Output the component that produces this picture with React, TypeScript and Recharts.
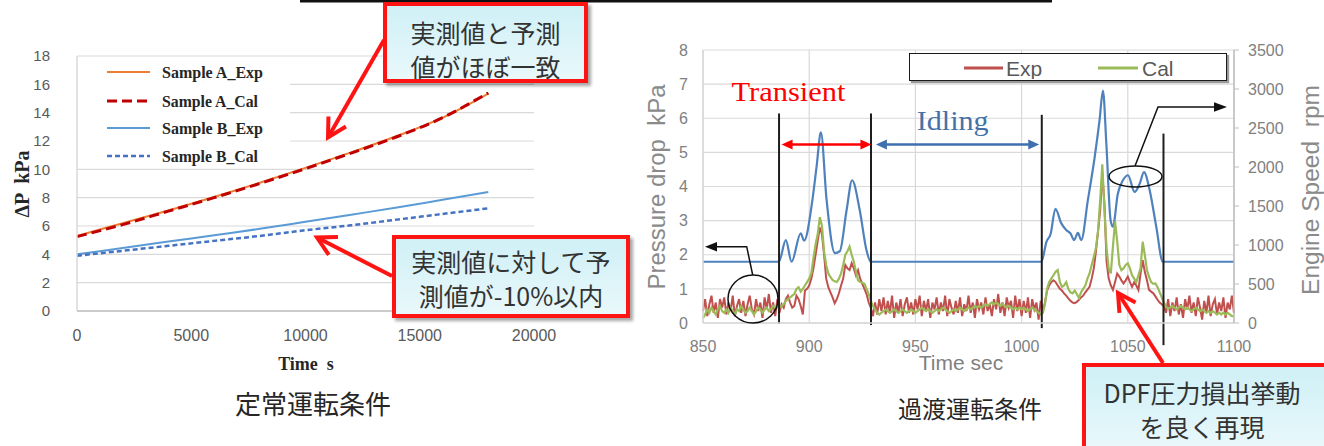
import React from 'react';
import { LineChart, Line, XAxis, YAxis, CartesianGrid, ReferenceLine, Legend } from 'recharts';

// ---------- Steady-state chart (left) ----------
const steadyTime = [0, 2000, 4000, 6000, 8000, 10000, 12000, 14000, 16000, 18000];
const sampleAExp = [5.3, 6.2, 7.1, 8.05, 9.05, 10.1, 11.2, 12.35, 13.65, 15.35];
const sampleACal = [5.25, 6.1, 7.05, 8.0, 9.0, 10.05, 11.15, 12.3, 13.65, 15.4];
const sampleBExp = [4.0, 4.45, 4.9, 5.35, 5.8, 6.3, 6.8, 7.3, 7.85, 8.4];
const sampleBCal = [3.9, 4.25, 4.6, 4.95, 5.3, 5.7, 6.05, 6.45, 6.85, 7.25];
const steadyNames = ['Sample A_Exp', 'Sample A_Cal', 'Sample B_Exp', 'Sample B_Cal'];
const steadyXTicks = [0, 5000, 10000, 15000, 20000];
const steadyYTicks = [0, 2, 4, 6, 8, 10, 12, 14, 16, 18];

// ---------- Transient chart (right) ----------
const transientStart = 850; // first sample time, 1 s step
const expKpa = [
  0.35, 0.7, 0.2, 0.55, 0.8, 0.3, 0.6, 0.15, 0.7, 0.45,
  0.75, 0.25, 0.6, 0.35, 0.8, 0.2, 0.5, 0.7, 0.3, 0.65,
  0.2, 0.55, 0.8, 0.4, 0.25, 0.7, 0.35, 0.6, 0.15, 0.75,
  0.4, 0.85, 0.3, 0.6, 0.2, 0.7, 0.3, 0.55, 0.45, 0.7,
  0.8, 0.6, 0.45, 0.5, 0.8, 0.7, 0.5, 0.25, 0.95, 1.0,
  1.1, 1.3, 1.6, 2.0, 2.4, 2.8, 2.6, 2.0, 1.3, 1.05,
  0.9, 0.75, 0.58, 0.7, 0.87, 1.1, 1.3, 1.7, 1.6, 1.55,
  1.75, 1.6, 1.4, 1.55, 1.3, 1.15, 1.0, 0.85, 0.6, 0.45,
  0.2, 0.6, 0.25, 0.7, 0.35, 0.75, 0.25, 0.65, 0.3, 0.8,
  0.15, 0.6, 0.3, 0.7, 0.2, 0.55, 0.75, 0.3, 0.6, 0.25,
  0.7, 0.4, 0.8, 0.2, 0.65, 0.35, 0.7, 0.15, 0.6, 0.4,
  0.75, 0.25, 0.6, 0.35, 0.8, 0.2, 0.7, 0.45, 0.25, 0.65,
  0.3, 0.75, 0.2, 0.55, 0.35, 0.8, 0.3, 0.6, 0.15, 0.7,
  0.4, 0.6, 0.25, 0.75, 0.35, 0.55, 0.2, 0.7, 0.4, 0.85,
  0.3, 0.6, 0.2, 0.75, 0.45, 0.65, 0.15, 0.8, 0.35, 0.7,
  0.2, 0.65, 0.3, 0.75, 0.15, 0.7, 0.4, 0.6, 0.1, 0.65,
  0.35, 0.6, 0.95, 1.1, 1.2, 1.25, 1.2, 1.1, 1.0, 0.95,
  0.87, 0.8, 0.72, 0.65, 0.6, 0.58, 0.62, 0.68, 0.75, 0.8,
  0.9, 0.98, 1.06, 1.3, 1.6, 2.1, 2.7, 3.3, 4.4, 3.5,
  1.8, 1.3, 1.1, 0.97, 1.2, 1.45, 1.36, 1.25, 1.16, 1.25,
  1.36, 1.2, 1.06, 1.2, 1.1, 0.97, 1.45, 1.84, 1.5, 1.26,
  0.97, 0.92, 0.87, 0.78, 0.68, 0.6, 0.55, 0.48, 0.3, 0.7,
  0.2, 0.6, 0.35, 0.75, 0.25, 0.55, 0.15, 0.7, 0.4, 0.8,
  0.3, 0.6, 0.2, 0.75, 0.45, 0.1, 0.65, 0.3, 0.8, 0.2,
  0.55, 0.7, 0.25, 0.6, 0.35, 0.75, 0.15, 0.6, 0.4, 0.8,
  0.3,
];
const calKpa = [
  0.15, 0.25, 0.4, 0.3, 0.45, 0.35, 0.25, 0.4, 0.5, 0.35,
  0.3, 0.4, 0.3, 0.45, 0.35, 0.25, 0.4, 0.35, 0.5, 0.4,
  0.3, 0.35, 0.45, 0.35, 0.25, 0.35, 0.45, 0.4, 0.3, 0.4,
  0.45, 0.35, 0.4, 0.5, 0.45, 0.5, 0.45, 0.5, 0.55, 0.65,
  0.7, 0.75, 0.8, 0.85, 1.0, 1.05, 0.92, 1.0, 1.1, 1.2,
  1.3, 1.45, 1.9, 2.3, 2.6, 3.1, 2.85, 2.1, 1.7, 1.45,
  1.35, 1.26, 1.22, 1.2, 1.3, 1.45, 1.7, 2.0, 2.1, 2.24,
  2.0, 1.8, 1.5, 1.25, 1.2, 1.18, 1.15, 1.0, 0.85, 0.65,
  0.5, 0.4, 0.3, 0.25, 0.3, 0.35, 0.4, 0.35, 0.3, 0.35,
  0.4, 0.35, 0.3, 0.35, 0.4, 0.35, 0.3, 0.35, 0.4, 0.35,
  0.3, 0.35, 0.4, 0.45, 0.4, 0.35, 0.4, 0.35, 0.3, 0.35,
  0.4, 0.35, 0.4, 0.45, 0.4, 0.35, 0.3, 0.35, 0.4, 0.35,
  0.4, 0.45, 0.4, 0.35, 0.4, 0.45, 0.4, 0.45, 0.5, 0.45,
  0.5, 0.45, 0.5, 0.55, 0.5, 0.55, 0.6, 0.55, 0.6, 0.55,
  0.5, 0.55, 0.5, 0.45, 0.5, 0.45, 0.4, 0.45, 0.4, 0.45,
  0.4, 0.45, 0.4, 0.35, 0.4, 0.45, 0.4, 0.35, 0.3, 0.25,
  0.3, 0.55, 1.0, 1.2, 1.3, 1.4, 1.5, 1.55, 1.2, 1.06,
  1.1, 1.2, 1.0, 0.9, 0.87, 0.95, 0.85, 0.73, 0.9, 1.0,
  1.1, 1.3, 1.45, 1.7, 1.94, 2.2, 2.7, 3.6, 4.65, 3.3,
  2.2, 1.6, 1.45, 2.24, 2.97, 2.4, 1.7, 1.55, 1.6, 1.7,
  1.75, 1.6, 1.4, 1.3, 1.2, 1.4, 1.6, 2.38, 2.0, 1.55,
  1.35, 1.2, 1.15, 1.16, 1.05, 0.9, 0.75, 0.6, 0.48, 0.42,
  0.45, 0.5, 0.45, 0.4, 0.45, 0.5, 0.45, 0.4, 0.45, 0.4,
  0.35, 0.4, 0.45, 0.4, 0.35, 0.4, 0.35, 0.3, 0.35, 0.3,
  0.35, 0.3, 0.25, 0.3, 0.25, 0.3, 0.25, 0.3, 0.25, 0.2,
  0.2,
];
const speedTime = [
  850, 885.7, 889, 891.7, 896, 897.6, 901.5, 903.5, 905.5, 908.2, 912.1, 914.4, 917.6, 920.2, 923.8, 927, 929,
  1009.3, 1011.7, 1013.7, 1015.9, 1018.7, 1021.1, 1023.1, 1024.7, 1026.5, 1028.1, 1031.2, 1034.4, 1036.7,
  1038.3, 1039.9, 1041.9, 1043, 1045.3, 1047.7, 1050.1, 1053.2, 1055.6, 1057.6, 1060.3, 1063.4, 1066.5, 1100,
];
const speedRpm = [
  785, 785, 1063, 785, 1150, 1055, 1575, 2010, 2445, 1575, 897, 920, 1445, 1830, 1445, 930, 785,
  785, 1040, 1145, 1465, 1277, 1190, 1145, 1063, 1155, 1063, 1575, 2125, 2600,
  2980, 2297, 1317, 1234, 1658, 1829, 1894, 1680, 1785, 1934, 1702, 1234, 785, 785,
];
const transientXTicks = [850, 900, 950, 1000, 1050, 1100];
const pressureTicks = [0, 1, 2, 3, 4, 5, 6, 7, 8];
const rpmTicks = [0, 500, 1000, 1500, 2000, 2500, 3000, 3500];
// phase boundaries: time, bottom kPa, top kPa
const phaseTimes = [885.8, 929.1, 1009.5, 1066.8];
const phaseBottoms = [-0.02, -0.06, -0.15, -0.65];
const phaseTops = [6.14, 6.14, 6.1, 5.55];
const transientSpan = [887, 929.3];
const idlingSpan = [931.4, 1008.3];
const spanLevel = 5.23;

const steadyData = steadyTime.map((t, i) => ({
  time: t,
  aExp: sampleAExp[i],
  aCal: sampleACal[i],
  bExp: sampleBExp[i],
  bCal: sampleBCal[i],
}));
const transientData = expKpa.map((v, i) => ({ t: transientStart + i, exp: v, cal: calKpa[i] }));
const speedData = speedTime.map((t, i) => ({ t, rpm: speedRpm[i] }));

const SANS = '"Liberation Sans", Arial, sans-serif';
const SERIF = '"Liberation Serif", "Times New Roman", serif';
const CJK = '"Noto Sans CJK JP", sans-serif';

const steadyStyles = [
  { key: 'aExp', color: '#ED7D31', width: 2, dash: undefined, textLen: 101 },
  { key: 'aCal', color: '#C00000', width: 3, dash: '10 5', textLen: 96 },
  { key: 'bExp', color: '#5B9BD5', width: 2, dash: undefined, textLen: 101 },
  { key: 'bCal', color: '#4472C4', width: 2.5, dash: '5 3', textLen: 96 },
];

const SteadyLegend = () => {
  const rows = [14, 43, 70, 98];
  return (
    <svg width={212} height={108} style={{ display: 'block', background: '#fff' }}>
      {steadyNames.map((name, i) => (
        <g key={name}>
          <line
            x1={29}
            x2={72}
            y1={rows[i]}
            y2={rows[i]}
            stroke={steadyStyles[i].color}
            strokeWidth={steadyStyles[i].width}
            strokeDasharray={steadyStyles[i].dash}
          />
          <text
            x={84}
            y={rows[i] + 6}
            fontFamily={SERIF}
            fontWeight="bold"
            fontSize={17}
            fill="#262626"
            textLength={steadyStyles[i].textLen}
            lengthAdjust="spacingAndGlyphs"
          >
            {name}
          </text>
        </g>
      ))}
    </svg>
  );
};

const TransientLegend = () => (
  <div
    style={{
      width: 318,
      height: 28,
      boxSizing: 'border-box',
      border: '1.5px solid #1a1a1a',
      background: '#fff',
      boxShadow: '2px 2px 1px #9a9a9a',
      position: 'relative',
    }}
  >
    <svg width={315} height={25} style={{ position: 'absolute', left: 0, top: 0 }}>
      <line x1={54} x2={93} y1={14} y2={14} stroke="#C0504D" strokeWidth={3} />
      <text x={96} y={21.5} fontFamily={SANS} fontSize={21} fill="#595959">Exp</text>
      <line x1={188} x2={228} y1={14} y2={14} stroke="#9BBB59" strokeWidth={3} />
      <text x={232} y={21.5} fontFamily={SANS} fontSize={21} fill="#595959">Cal</text>
    </svg>
  </div>
);

const doubleArrow = (color: string) => (p: any) => {
  const x1 = Math.min(p.x1, p.x2);
  const x2 = Math.max(p.x1, p.x2);
  const y = p.y1;
  const L = 11;
  const W = 5;
  return (
    <g>
      <line x1={x1 + L - 1} y1={y} x2={x2 - L + 1} y2={y} stroke={color} strokeWidth={2.5} />
      <polygon points={`${x1},${y} ${x1 + L},${y - W} ${x1 + L},${y + W}`} fill={color} />
      <polygon points={`${x2},${y} ${x2 - L},${y - W} ${x2 - L},${y + W}`} fill={color} />
    </g>
  );
};

function vHead(tipX: number, tipY: number, fromX: number, fromY: number, len: number, ang: number) {
  const dx = fromX - tipX;
  const dy = fromY - tipY;
  const d = Math.hypot(dx, dy);
  const ux = dx / d;
  const uy = dy / d;
  const c = Math.cos(ang);
  const s = Math.sin(ang);
  const a1x = tipX + len * (ux * c - uy * s);
  const a1y = tipY + len * (ux * s + uy * c);
  const a2x = tipX + len * (ux * c + uy * s);
  const a2y = tipY + len * (-ux * s + uy * c);
  return `${a1x},${a1y} ${tipX},${tipY} ${a2x},${a2y}`;
}

const calloutBox: React.CSSProperties = {
  position: 'absolute',
  boxSizing: 'border-box',
  border: '4px solid #FF1414',
  background: 'linear-gradient(180deg, #CFF0F6 0%, #E9F8FB 100%)',
  boxShadow: '3px 3px 3px rgba(0,0,0,0.35)',
  fontFamily: CJK,
  color: '#333',
  fontSize: 25,
};

const lineDiv = (top: number, width: number, text: string, lh = 34) => (
  <div
    style={{
      position: 'absolute',
      left: 0,
      top: top - lh / 2,
      width,
      height: lh,
      lineHeight: `${lh}px`,
      textAlign: 'center',
      whiteSpace: 'nowrap',
    }}
  >
    {text}
  </div>
);

export default function App() {
  return (
    <div
      style={{
        position: 'absolute',
        left: 0,
        top: 0,
        width: 1324,
        height: 446,
        overflow: 'hidden',
        background: '#fff',
        fontFamily: SANS,
      }}
    >
      {/* Left: steady-state */}
      <div style={{ position: 'absolute', left: 0, top: 0 }}>
        <LineChart width={600} height={446} data={steadyData} margin={{ top: 56, right: 66, bottom: 105, left: 32 }}>
          <CartesianGrid vertical={false} stroke="#D9D9D9" strokeWidth={1.2} />
          <XAxis
            dataKey="time"
            type="number"
            domain={[0, 20000]}
            ticks={steadyXTicks}
            height={30}
            tickLine={false}
            tickSize={0}
            tickMargin={19}
            axisLine={{ stroke: '#BFBFBF', strokeWidth: 1.5 }}
            tick={{ fontSize: 16, fill: '#595959', fontFamily: SANS }}
          />
          <YAxis
            type="number"
            domain={[0, 18]}
            ticks={steadyYTicks}
            width={45}
            tickLine={false}
            tickSize={0}
            tickMargin={27}
            axisLine={{ stroke: '#D9D9D9', strokeWidth: 1.5 }}
            tick={{ fontSize: 15, fill: '#595959', fontFamily: SANS }}
          />
          <Legend
            layout="vertical"
            align="center"
            verticalAlign="middle"
            wrapperStyle={{ left: 78, top: 58, width: 212, height: 108 }}
            content={() => <SteadyLegend />}
          />
          {steadyStyles.map((s) => (
            <Line
              key={s.key}
              dataKey={s.key}
              type="monotone"
              stroke={s.color}
              strokeWidth={s.width}
              strokeDasharray={s.dash}
              dot={false}
              isAnimationActive={false}
            />
          ))}
        </LineChart>
      </div>

      {/* Right: transient */}
      <div style={{ position: 'absolute', left: 600, top: 0 }}>
        <LineChart width={724} height={446} data={transientData} margin={{ top: 50, right: 40, bottom: 93, left: 63 }}>
          <CartesianGrid yAxisId="kpa" stroke="#D9D9D9" strokeWidth={1.2} />
          <XAxis
            dataKey="t"
            type="number"
            domain={[850, 1100]}
            ticks={transientXTicks}
            height={30}
            tickLine={false}
            tickSize={0}
            tickMargin={18}
            axisLine={{ stroke: '#D9D9D9', strokeWidth: 1.5 }}
            tick={{ fontSize: 16, fill: '#808080', fontFamily: SANS }}
          />
          <YAxis
            yAxisId="kpa"
            type="number"
            domain={[0, 8]}
            ticks={pressureTicks}
            width={40}
            tickLine={false}
            tickSize={0}
            tickMargin={15}
            axisLine={{ stroke: '#D9D9D9', strokeWidth: 1.5 }}
            tick={{ fontSize: 16, fill: '#808080', fontFamily: SANS }}
          />
          <YAxis
            yAxisId="rpm"
            orientation="right"
            type="number"
            domain={[0, 3500]}
            ticks={rpmTicks}
            width={50}
            tickSize={5}
            tickLine={{ stroke: '#BFBFBF' }}
            tickMargin={9}
            axisLine={{ stroke: '#BFBFBF', strokeWidth: 1.5 }}
            tick={{ fontSize: 16, fill: '#808080', fontFamily: SANS, textAnchor: 'start' }}
          />
          <Legend
            layout="vertical"
            align="center"
            verticalAlign="middle"
            wrapperStyle={{ left: 309, top: 53, width: 318, height: 28 }}
            content={() => <TransientLegend />}
          />
          <Line
            yAxisId="rpm"
            data={speedData}
            dataKey="rpm"
            type="monotone"
            stroke="#4F81BD"
            strokeWidth={2.2}
            dot={false}
            isAnimationActive={false}
          />
          <Line
            yAxisId="kpa"
            dataKey="exp"
            type="linear"
            stroke="#C0504D"
            strokeWidth={2}
            dot={false}
            isAnimationActive={false}
          />
          <Line
            yAxisId="kpa"
            dataKey="cal"
            type="linear"
            stroke="#9BBB59"
            strokeWidth={2.2}
            dot={false}
            isAnimationActive={false}
          />
          {phaseTimes.map((t, i) => (
            <ReferenceLine
              key={`ph${i}`}
              yAxisId="kpa"
              ifOverflow="visible"
              segment={[
                { x: t, y: phaseBottoms[i] },
                { x: t, y: phaseTops[i] },
              ]}
              stroke="#1E1E1E"
              strokeWidth={2}
            />
          ))}
          <ReferenceLine
            yAxisId="kpa"
            ifOverflow="visible"
            segment={[
              { x: transientSpan[0], y: spanLevel },
              { x: transientSpan[1], y: spanLevel },
            ]}
            shape={doubleArrow('#FF0000')}
          />
          <ReferenceLine
            yAxisId="kpa"
            ifOverflow="visible"
            segment={[
              { x: idlingSpan[0], y: spanLevel },
              { x: idlingSpan[1], y: spanLevel },
            ]}
            shape={doubleArrow('#3E6FAF')}
          />
        </LineChart>
      </div>

      {/* Text & black annotations */}
      <svg width={1324} height={446} style={{ position: 'absolute', left: 0, top: 0, pointerEvents: 'none' }}>
        <rect x={300} y={0} width={752} height={2.5} fill="#111" />
        <text
          transform="translate(29,184) rotate(-90)"
          textAnchor="middle"
          fontFamily={SERIF}
          fontWeight="bold"
          fontSize={20}
          fill="#262626"
          style={{ whiteSpace: 'pre' }}
        >
          {'ΔP  kPa'}
        </text>
        <text x={306} y={370} textAnchor="middle" fontFamily={SERIF} fontWeight="bold" fontSize={18} fill="#262626" style={{ whiteSpace: 'pre' }}>
          {'Time  s'}
        </text>
        <text x={313} y={414} textAnchor="middle" fontFamily={CJK} fontSize={26} fill="#262626">定常運転条件</text>

        <text
          transform="translate(665,187) rotate(-90)"
          textAnchor="middle"
          fontFamily={SANS}
          fontSize={23}
          fill="#8A8A8A"
          textLength={205}
          lengthAdjust="spacingAndGlyphs"
          style={{ whiteSpace: 'pre' }}
        >
          {'Pressure drop  kPa'}
        </text>
        <text
          transform="translate(1319,190) rotate(-90)"
          textAnchor="middle"
          fontFamily={SANS}
          fontSize={23}
          fill="#8A8A8A"
          textLength={210}
          lengthAdjust="spacingAndGlyphs"
          style={{ whiteSpace: 'pre' }}
        >
          {'Engine Speed  rpm'}
        </text>
        <text x={961} y={370} textAnchor="middle" fontFamily={SANS} fontSize={21} fill="#7F7F7F">Time sec</text>
        <text x={970} y={418} textAnchor="middle" fontFamily={CJK} fontSize={24} fill="#262626">過渡運転条件</text>

        <text x={731.5} y={100.5} fontFamily={SERIF} fontSize={28} fill="#FF0000" textLength={114} lengthAdjust="spacingAndGlyphs">Transient</text>
        <text x={916.7} y={130} fontFamily={SERIF} fontSize={28} fill="#4472A8" textLength={72} lengthAdjust="spacingAndGlyphs">Idling</text>

        {/* left black pointer */}
        <ellipse cx={753} cy={299} rx={25} ry={24} fill="none" stroke="#111" strokeWidth={1.5} />
        <polyline points="752.7,275 746.7,246.7 716,246.7" fill="none" stroke="#111" strokeWidth={1.5} />
        <polygon points="705,246.7 717,242 717,251.4" fill="#111" />
        {/* right black pointer */}
        <ellipse cx={1135.5} cy={176.5} rx={26.5} ry={10.5} fill="none" stroke="#111" strokeWidth={1.5} />
        <polyline points="1135,166 1158,107 1215,107" fill="none" stroke="#111" strokeWidth={1.5} />
        <polygon points="1227,107 1214,102.3 1214,111.7" fill="#111" />
      </svg>

      {/* Callouts */}
      <div style={{ ...calloutBox, left: 383, top: 2, width: 205, height: 81 }}>
        {lineDiv(26, 197, '実測値と予測')}
        {lineDiv(60, 197, '値がほぼ一致')}
      </div>
      <div style={{ ...calloutBox, left: 392, top: 235, width: 238, height: 83 }}>
        {lineDiv(22, 230, '実測値に対して予', 33)}
        {lineDiv(56, 230, '測値が-10%以内', 33)}
      </div>
      <div style={{ ...calloutBox, left: 1082, top: 363, width: 250, height: 90 }}>
        {lineDiv(25, 232, 'DPF圧力損出挙動', 33)}
        {lineDiv(59, 232, 'を良く再現', 33)}
      </div>

      {/* Red callout arrows */}
      <svg width={1324} height={446} style={{ position: 'absolute', left: 0, top: 0, pointerEvents: 'none' }}>
        <line x1={384} y1={40} x2={328} y2={137.5} stroke="#FF1414" strokeWidth={4} />
        <polyline points={vHead(328, 137.5, 384, 40, 21, 0.5)} fill="none" stroke="#FF1414" strokeWidth={4} />
        <line x1={392} y1={276} x2={317} y2={237.5} stroke="#FF1414" strokeWidth={4} />
        <polyline points={vHead(317, 237.5, 392, 276, 21, 0.5)} fill="none" stroke="#FF1414" strokeWidth={4} />
        <line x1={1163} y1={363} x2={1118} y2={293} stroke="#FF1414" strokeWidth={4} />
        <polyline points={vHead(1118, 293, 1163, 363, 20, 0.5)} fill="none" stroke="#FF1414" strokeWidth={4} />
      </svg>
    </div>
  );
}
